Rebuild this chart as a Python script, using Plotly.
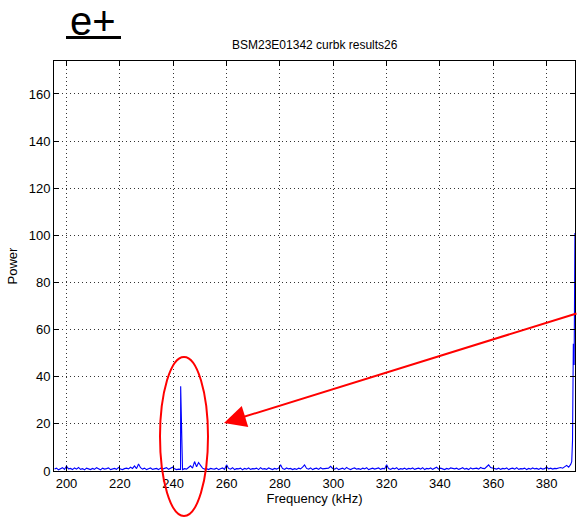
import plotly.graph_objects as go

# ---- data ----
noise_start_khz = 195.5
noise_step_khz = 0.75
noise_power = [
    0.8, 1.2, 0.5, 1.0, 1.4, 0.7, 2.0, 0.9, 1.1, 0.6, 1.3, 0.8, 1.5, 0.7, 1.0, 0.5, 1.2, 0.9, 0.6, 1.1,
    0.7, 1.4, 0.9, 0.5, 1.2, 0.8, 1.0, 1.3, 0.6, 0.9, 1.1, 0.7, 1.5, 0.8, 0.6, 1.0, 1.2, 0.9, 1.6, 1.1,
    2.2, 1.0, 3.0, 1.4, 0.8, 1.2, 0.6, 1.0, 1.3, 0.7, 0.9, 1.1, 0.6, 1.2, 0.8, 1.0, 1.4, 0.7, 1.0, 1.6,
    0.9, 0.6, 0.8, 0.7, 0.6, 1.0, 0.8, 1.5, 2.2, 1.2, 4.0, 1.8, 3.6, 2.4, 1.2, 0.8, 1.0, 0.6, 1.1, 0.9,
    0.8, 1.2, 0.6, 1.0, 1.3, 0.7, 2.6, 1.1, 0.8, 1.4, 0.6, 1.0, 0.9, 1.2, 0.5, 1.1, 0.8, 1.3, 0.7, 1.0,
    0.9, 1.2, 0.6, 1.4, 0.8, 1.0, 0.7, 1.3, 0.9, 0.6, 1.1, 0.8, 1.2, 2.6, 1.0, 0.7, 1.3, 0.9, 1.1, 0.6,
    1.0, 0.7, 1.2, 0.9, 1.6, 2.6, 1.1, 0.8, 1.3, 0.6, 1.0, 1.2, 0.7, 1.4, 0.9, 1.0, 0.8, 1.2, 2.0, 1.1,
    0.8, 1.3, 0.6, 1.0, 1.2, 0.7, 1.5, 0.9, 0.6, 1.1, 1.3, 0.8, 1.0, 0.7, 1.2, 0.9, 1.4, 0.6, 1.0, 1.2,
    0.8, 1.0, 1.3, 0.7, 1.1, 0.9, 2.6, 1.0, 0.7, 1.2, 0.9, 1.4, 0.6, 1.0, 0.8, 1.2, 0.7, 1.1, 0.9, 1.3,
    0.7, 1.0, 1.2, 0.8, 1.4, 0.6, 1.1, 0.9, 1.3, 0.7, 1.0, 1.6, 0.8, 1.2, 0.9, 0.6, 1.1, 0.8, 1.3, 1.0,
    0.9, 1.2, 0.7, 1.0, 1.4, 0.8, 1.1, 0.6, 1.3, 0.9, 1.0, 1.2, 0.8, 1.5, 1.1, 1.0, 1.8, 2.6, 1.5, 1.3,
    1.0, 0.8, 1.2, 0.7, 1.1, 0.9, 1.3, 0.6, 1.0, 1.2, 0.8, 1.4, 0.7, 1.0, 0.9, 1.2, 0.6, 1.1, 0.8, 1.3,
    0.9, 1.1, 0.7, 1.2, 0.8, 1.0, 1.7, 0.9, 1.2, 0.8, 1.1, 1.0, 1.3, 1.5, 1.2, 1.9, 2.4, 1.6, 2.8,
]
peak_freq_khz = [242.8, 243.0, 389.4, 389.7, 390.0, 390.3, 390.6]
peak_power = [36.0, 21.7, 4.0, 13.0, 54.0, 45.0, 101.0]

x_ticks = [200, 220, 240, 260, 280, 300, 320, 340, 360, 380]
y_ticks = [0, 20, 40, 60, 80, 100, 120, 140, 160]
title_text = "BSM23E01342 curbk results26"
label_text = "e+"

# ---- build series ----
noise_freq = [noise_start_khz + noise_step_khz * i for i in range(len(noise_power))]
pairs = sorted(list(zip(noise_freq, noise_power)) + list(zip(peak_freq_khz, peak_power)))
freq = [p[0] for p in pairs]
power = [p[1] for p in pairs]

W, H = 578, 517
L, R, T, B = 54, 3, 61, 46
pw, ph = W - L - R, H - T - B

def px(x):
    return (x - L) / pw

def py(y):
    return (H - B - y) / ph

FONT = "Liberation Sans, Arial, sans-serif"

fig = go.Figure()
fig.add_trace(go.Scatter(x=freq, y=power, mode="lines",
                         line=dict(color="#0000ff", width=1.1), showlegend=False))

axis_common = dict(showline=True, linecolor="black", linewidth=1, mirror="allticks",
                   ticks="inside", ticklen=5, tickcolor="black",
                   showgrid=True, gridcolor="#333333", griddash="1px,3px", gridwidth=1,
                   zeroline=False, tickfont=dict(family=FONT, size=13, color="black"))

fig.update_layout(
    width=W, height=H,
    margin=dict(l=L, r=R, t=T, b=B),
    paper_bgcolor="white", plot_bgcolor="white",
    font=dict(family=FONT, color="black"),
    xaxis=dict(range=[195.3125, 390.625], tickvals=x_ticks,
               title=dict(text="Frequency (kHz)", font=dict(family=FONT, size=13), standoff=4),
               **axis_common),
    yaxis=dict(range=[0, 174], tickvals=y_ticks,
               title=dict(text="Power", font=dict(family=FONT, size=13), standoff=8),
               **axis_common),
)

# title
fig.add_annotation(x=0.5, y=py(45), xref="paper", yref="paper", text=title_text,
                   showarrow=False, font=dict(family=FONT, size=12, color="black"),
                   xanchor="center", yanchor="middle")
# big label
fig.add_annotation(x=px(93), y=py(21), xref="paper", yref="paper", text=label_text,
                   showarrow=False, font=dict(family=FONT, size=40, color="black"),
                   xanchor="center", yanchor="middle")
fig.add_shape(type="rect", xref="paper", yref="paper",
              x0=px(66), x1=px(121), y0=py(39), y1=py(36),
              fillcolor="black", line=dict(width=0))
# ellipse
fig.add_shape(type="circle", xref="paper", yref="paper",
              x0=px(160), x1=px(208), y0=py(516), y1=py(357),
              line=dict(color="red", width=2))
# arrow
fig.add_annotation(x=px(224), y=py(423), xref="paper", yref="paper",
                   ax=354, ay=-110, axref="pixel", ayref="pixel",
                   showarrow=True, arrowhead=2, arrowsize=2.2, arrowwidth=2,
                   arrowcolor="red", text="")

fig.write_html("out.html")
